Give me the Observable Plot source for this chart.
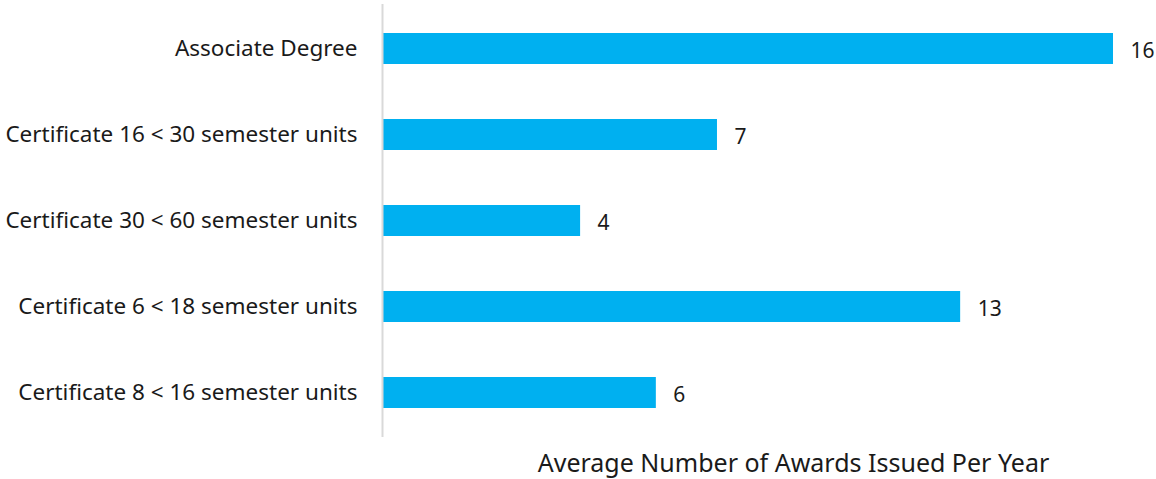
<!DOCTYPE html>
<html>
<head>
<meta charset="utf-8">
<script src="https://cdn.jsdelivr.net/npm/d3@7"></script>
<script src="https://cdn.jsdelivr.net/npm/@observablehq/plot@0.6"></script>
<style>
  html, body { margin: 0; padding: 0; background: #fff; }
  #chart svg { display: block; }
</style>
</head>
<body>
<div id="chart"></div>
<script>
const categories = [
  "Associate Degree",
  "Certificate 16 < 30 semester units",
  "Certificate 30 < 60 semester units",
  "Certificate 6 < 18 semester units",
  "Certificate 8 < 16 semester units"
];
const values = [16.0, 7.32, 4.32, 12.65, 5.98];
const valueLabels = ["16", "7", "4", "13", "6"];
const axisTitle = "Average Number of Awards Issued Per Year";

const data = categories.map((c, i) => ({category: c, value: values[i], label: valueLabels[i]}));
const font = "'Noto Sans', 'Open Sans', sans-serif";

const chart = Plot.plot({
  width: 1156,
  height: 479,
  marginLeft: 383,
  marginRight: 43,
  marginTop: 4,
  marginBottom: 42,
  style: {fontFamily: font, fontSize: "22.5px", color: "#1a1a1a", background: "#fff"},
  x: {domain: [0, 16], axis: null},
  y: {domain: categories, paddingInner: 0.64, paddingOuter: 0.32, label: null, tickSize: 0, tickPadding: 26},
  marks: [
    Plot.barX(data, {x: "value", y: "category", fill: "#00B0F0"}),
    Plot.ruleX([0], {stroke: "#d9d9d9", strokeWidth: 2, dx: -1}),
    Plot.text(data, {x: "value", y: "category", text: "label", textAnchor: "start", dx: 17, dy: 2, fontSize: 21, fill: "#1a1a1a"}),
    Plot.text([axisTitle], {frameAnchor: "bottom", dx: 45, dy: 26, fontSize: 25, fill: "#1a1a1a", lineAnchor: "middle"})
  ]
});
document.getElementById("chart").appendChild(chart);
</script>
</body>
</html>
